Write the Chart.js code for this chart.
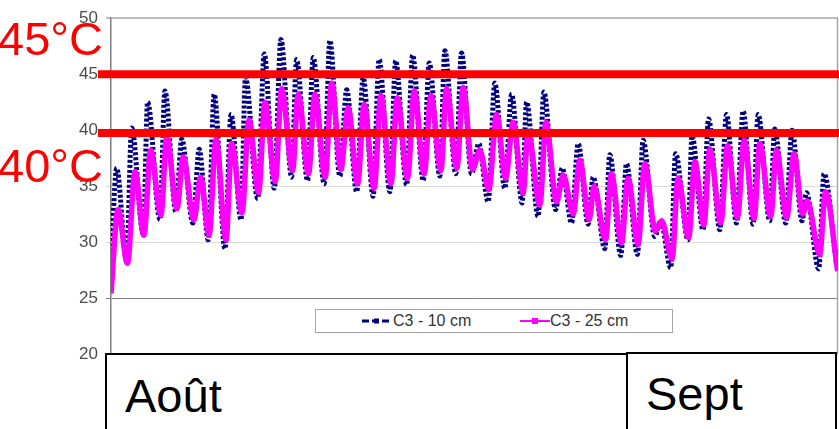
<!DOCTYPE html>
<html><head><meta charset="utf-8">
<script src="https://cdn.jsdelivr.net/npm/chart.js@4"></script>
<style>
html,body{margin:0;padding:0;background:#fff;}
#wrap{position:relative;width:839px;height:429px;overflow:hidden;font-family:"Liberation Sans",Arial,sans-serif;}
#c{position:absolute;left:0;top:0;}
.big{position:absolute;color:#ff0000;font-size:47px;line-height:47px;white-space:nowrap;}
.box{position:absolute;border:2px solid #000;background:#fff;box-sizing:border-box;}
.lbl{position:absolute;font-size:47px;line-height:47px;color:#000;white-space:nowrap;}
#legend{position:absolute;left:315px;top:309px;width:358px;height:24px;box-sizing:border-box;border:1.5px solid #a6a6a6;background:#fff;}
.li{position:absolute;top:2px;font-size:16px;line-height:18px;color:#333;white-space:nowrap;}
.sw{position:absolute;top:5px;}
</style></head>
<body>
<div id="wrap">
<canvas id="c" width="839" height="429"></canvas>
<div id="legend">
  <svg class="sw" style="left:45px" width="32" height="12"><line x1="1" y1="6" x2="31" y2="6" stroke="#000080" stroke-width="3" stroke-dasharray="7,3"/><rect x="13" y="3.5" width="5" height="5" fill="#000080"/></svg>
  <span class="li" style="left:77px">C3 - 10 cm</span>
  <svg class="sw" style="left:204px" width="30" height="12"><line x1="0" y1="6" x2="30" y2="6" stroke="#ff00ff" stroke-width="2"/><rect x="12" y="3" width="6" height="6" fill="#ff00ff"/></svg>
  <span class="li" style="left:234px">C3 - 25 cm</span>
</div>
<div class="big" style="left:-2px;top:15px">45°C</div>
<div class="big" style="left:-2px;top:142px">40°C</div>
<div class="box" style="left:105px;top:353px;width:524px;height:90px"></div>
<div class="box" style="left:626px;top:352px;width:211px;height:90px"></div>
<div class="lbl" style="left:125px;top:372px">Août</div>
<div class="lbl" style="left:646px;top:370px">Sept</div>
</div>
<script>
// time in days since 1 August, temperatures in °C (daily maxima / minima)
const days10 = [0.03,0.34,0.94,1.24,1.94,2.20,2.94,3.24,3.90,4.25,4.92,5.30,5.84,6.20,6.85,7.21,7.81,8.08,8.81,9.21,9.81,10.21,10.85,11.15,11.81,12.15,12.81,13.15,13.75,14.16,14.76,15.15,15.75,16.11,16.76,17.10,17.76,18.12,18.76,19.12,19.76,20.06,20.72,21.06,21.66,22.10,22.66,23.06,23.66,24.07,24.70,24.97,25.66,26.01,26.71,27.11,27.67,28.07,28.67,28.97,29.67,29.97,30.63,30.97,31.63,31.97,32.67,33.03,33.63,33.92,34.67,34.91,35.57,35.90,36.58,36.98,37.58,37.98,38.58,38.88,39.58,39.88,40.54,40.92,41.52,41.78,42.52,42.84,43.59];
const temp10 = [29.2,36.6,28.3,40.2,30.7,42.5,32.0,43.5,32.7,39.2,31.7,38.3,30.2,43.2,29.4,41.4,32.0,44.7,33.9,46.8,34.8,48.1,35.8,46.3,35.5,46.5,35.2,48.0,35.9,43.6,34.5,44.7,34.1,46.3,34.5,46.2,35.1,46.7,35.5,46.0,35.9,47.1,36.1,46.9,36.1,38.8,33.6,44.2,34.8,43.2,33.5,42.5,32.3,43.4,32.9,36.6,31.7,38.8,31.6,35.8,29.4,37.8,28.8,37.0,28.9,39.1,30.5,31.9,27.7,37.9,30.2,39.5,31.1,41.0,31.1,41.4,31.7,41.7,31.6,41.4,31.9,40.1,31.7,40.0,31.9,34.4,27.6,36.1,28.0];
const days25 = [0.00,0.42,0.99,1.44,1.98,2.38,3.00,3.35,3.96,4.34,4.98,5.39,5.89,6.31,6.91,7.25,7.87,8.29,8.87,9.25,9.87,10.25,10.91,11.25,11.87,12.25,12.87,13.26,13.81,14.25,14.82,15.21,15.81,16.22,16.82,17.20,17.82,18.22,18.82,19.22,19.82,20.16,20.78,21.16,21.72,22.16,22.70,23.17,23.71,24.16,24.76,25.06,25.77,26.13,26.77,27.17,27.77,28.17,28.73,29.03,29.71,30.07,30.67,31.07,31.67,32.07,32.71,33.08,33.71,34.07,34.71,35.08,35.62,35.98,36.64,37.04,37.64,38.04,38.64,38.98,39.64,39.98,40.60,41.04,41.56,41.83,42.58,42.93,43.66];
const temp25 = [25.4,32.9,28.1,36.3,30.6,38.2,32.4,39.4,33.0,37.6,32.0,35.8,30.6,39.2,30.2,38.8,32.6,40.9,34.4,42.5,35.4,43.7,36.4,43.2,36.1,43.2,35.8,44.2,36.5,42.0,35.2,42.3,34.8,43.1,35.2,42.9,35.7,43.5,36.1,43.1,36.4,43.7,36.6,43.8,36.5,38.2,34.7,41.4,35.7,40.7,34.4,39.8,33.3,40.7,33.6,36.0,32.5,37.3,32.0,35.0,30.2,36.1,29.9,35.7,29.8,37.0,31.0,31.9,28.5,35.7,30.4,37.2,31.5,38.3,31.7,38.6,32.2,39.1,32.1,38.8,32.3,38.2,32.2,37.9,32.5,33.7,28.9,34.5,27.4];
const seriesNames = ['C3 - 10 cm','C3 - 25 cm'];
const yTicks = [20,25,30,35,40,45,50];
const thresholds = [45,39.75];

const pts = (d,t)=>d.map((x,i)=>({x:x,y:t[i]}));

const thresholdPlugin = {
  id:'thresholds',
  beforeDatasetsDraw(chart){
    const {ctx,chartArea:a}=chart;
    ctx.save();
    ctx.strokeStyle='#a6a6a6';ctx.lineWidth=1.5;
    ctx.beginPath();ctx.moveTo(a.right-0.5,a.top);ctx.lineTo(a.right-0.5,a.bottom);ctx.stroke();
    ctx.restore();
  },
  afterDatasetsDraw(chart){
    const {ctx,chartArea:a,scales:{y}}=chart;
    ctx.save();
    ctx.strokeStyle='#ff0000';ctx.lineWidth=8;
    thresholds.forEach(v=>{
      const py=y.getPixelForValue(v);
      ctx.beginPath();ctx.moveTo(a.left-13,py);ctx.lineTo(chart.width,py);ctx.stroke();
    });
    ctx.restore();
  }
};

new Chart(document.getElementById('c'),{
  type:'line',
  data:{datasets:[
    {label:seriesNames[0],data:pts(days10,temp10),borderColor:'#000080',backgroundColor:'#000080',borderWidth:5,borderDash:[3,2],pointRadius:0,cubicInterpolationMode:'monotone',order:1},
    {label:seriesNames[1],data:pts(days25,temp25),borderColor:'#ff00ff',backgroundColor:'#ff00ff',borderWidth:5.5,pointRadius:0,cubicInterpolationMode:'monotone',order:0}
  ]},
  options:{
    responsive:false,animation:false,
    layout:{padding:{left:0,right:1,top:15,bottom:75}},
    plugins:{legend:{display:false},tooltip:{enabled:false}},
    scales:{
      x:{type:'linear',min:0,max:43.68,display:false},
      y:{min:20,max:50,
        afterBuildTicks(s){s.ticks=yTicks.map(v=>({value:v}));},
        afterFit(s){s.width=111;},
        ticks:{color:'#4d4d4d',font:{family:'"Liberation Sans",Arial,sans-serif',size:17},padding:8},
        grid:{tickLength:5,lineWidth:ctx=>(ctx.tick&&ctx.tick.value===50)?2:1,
          color:ctx=>{const v=ctx.tick&&ctx.tick.value;return v===25?'#7f7f7f':(v===50?'#bdbdbd':'#dadada');}},
        border:{color:'#7f7f7f',width:1.5}
      }
    }
  },
  plugins:[thresholdPlugin]
});
</script>
</body></html>
